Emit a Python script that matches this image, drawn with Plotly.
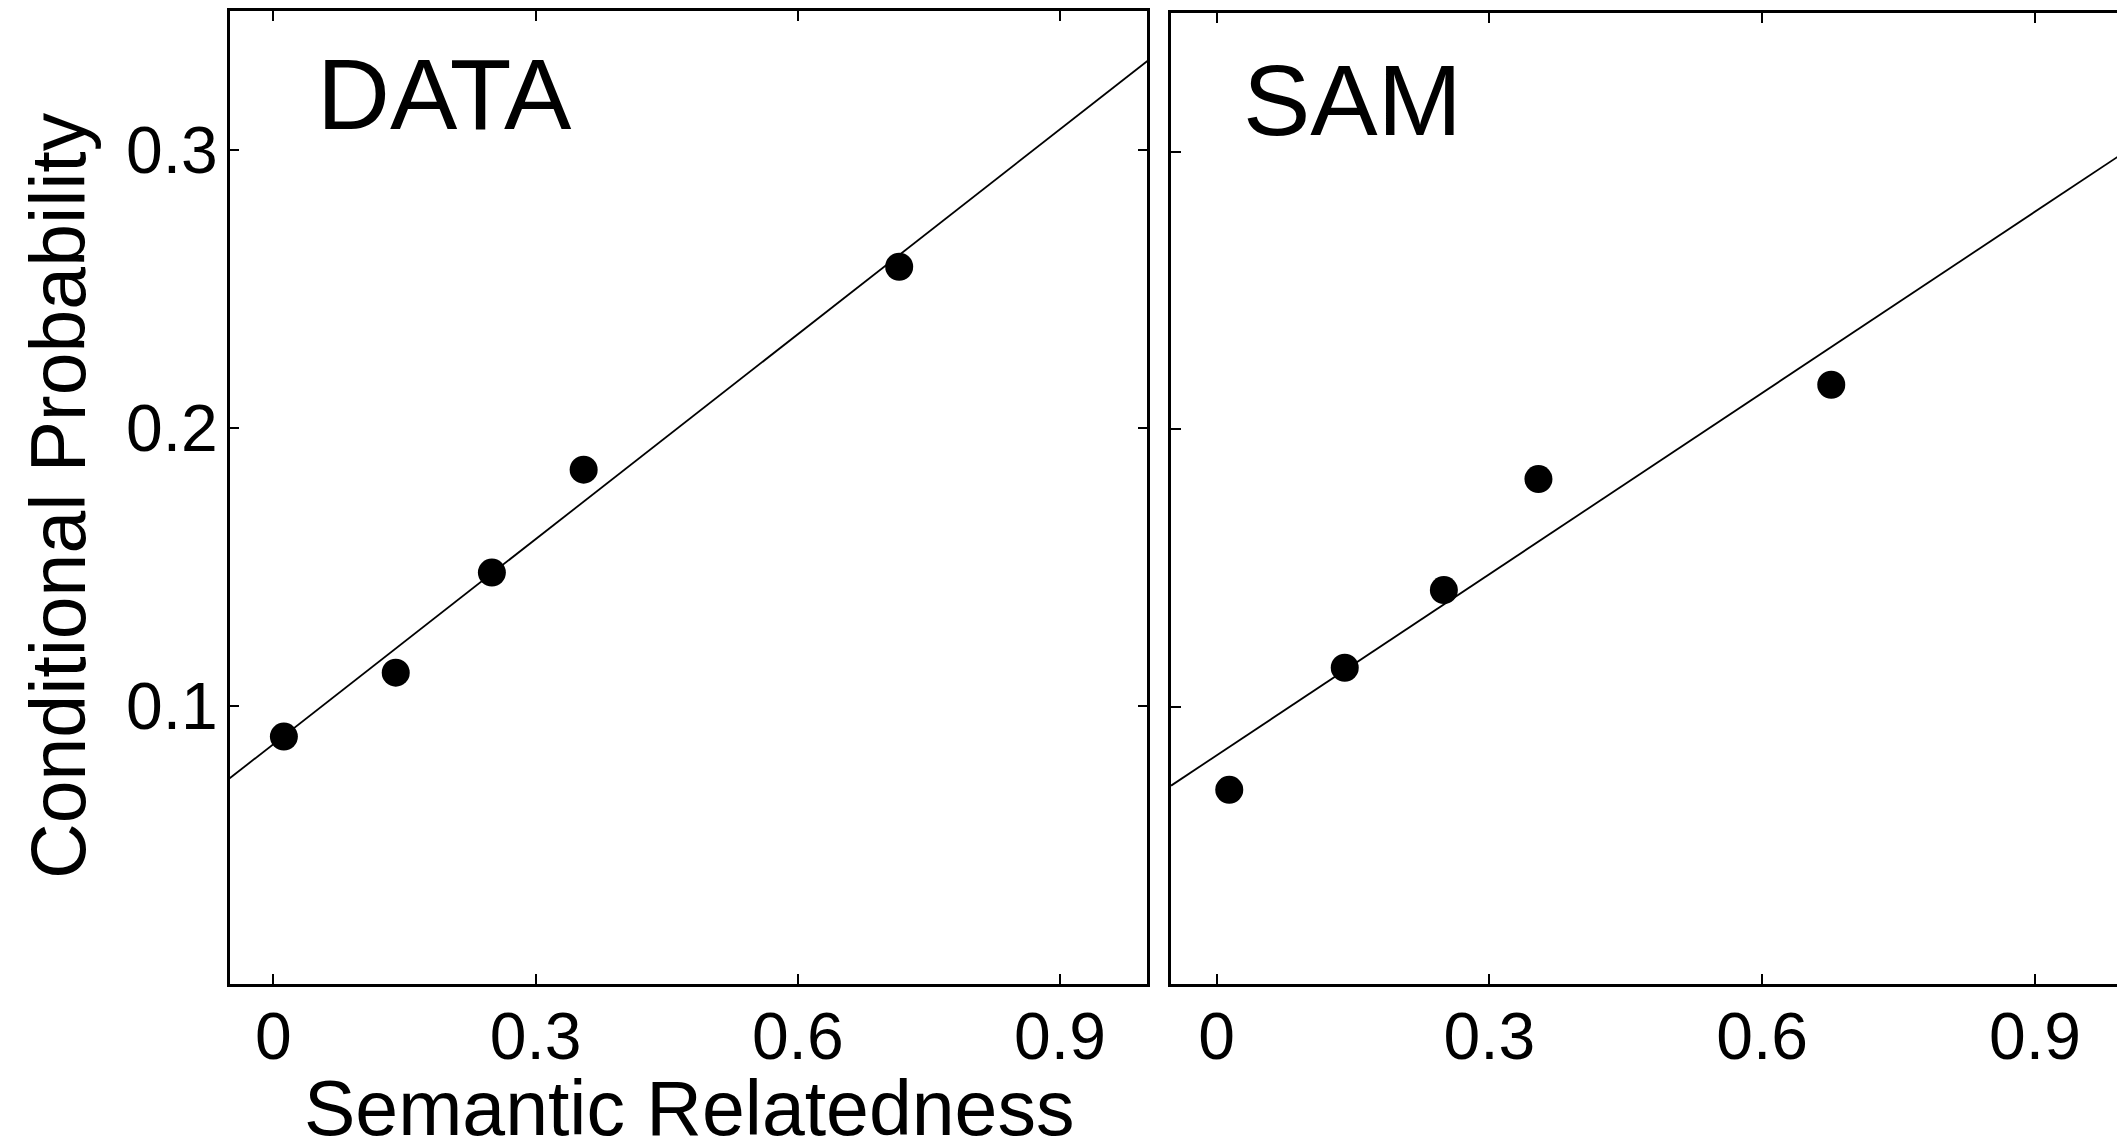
import plotly.graph_objects as go

# ---- data ----
data_x = [0.012, 0.140, 0.250, 0.355, 0.716]
data_y = [0.089, 0.112, 0.148, 0.185, 0.258]
data_fit_x = [-0.05, 1.0]
data_fit_y = [0.074, 0.332]

sam_x = [0.014, 0.141, 0.250, 0.354, 0.676]
sam_y = [0.070, 0.114, 0.142, 0.182, 0.216]
sam_fit_x = [-0.05, 1.02]
sam_fit_y = [0.0715, 0.3045]

x_tickvals = [0, 0.3, 0.6, 0.9]
x_ticktext = ["0", "0.3", "0.6", "0.9"]
y_tickvals = [0.1, 0.2, 0.3]
y_ticktext = ["0.1", "0.2", "0.3"]

W, H = 2125, 1145
OFF_X = 6  # page offset compensation
OFF_Y = 8
FONT = "Liberation Sans, Arial, Helvetica, sans-serif"


def px(v):
    return (v - OFF_X) / W


def py(v):
    return 1 - (v - OFF_Y) / H


fig = go.Figure()

for xs, ys, fx, fy, xa, ya in [
    (data_x, data_y, data_fit_x, data_fit_y, "x", "y"),
    (sam_x, sam_y, sam_fit_x, sam_fit_y, "x2", "y2"),
]:
    fig.add_trace(go.Scatter(x=fx, y=fy, mode="lines",
                             line=dict(color="black", width=1.8),
                             xaxis=xa, yaxis=ya, showlegend=False, hoverinfo="skip"))
    fig.add_trace(go.Scatter(x=xs, y=ys, mode="markers",
                             marker=dict(color="black", size=28),
                             xaxis=xa, yaxis=ya, showlegend=False, cliponaxis=False))

axis_common = dict(
    showgrid=False, zeroline=False, showline=True, linecolor="black", linewidth=2.5,
    ticks="inside", ticklen=10, tickwidth=1.5, tickcolor="black", mirror="ticks",
    tickfont=dict(family=FONT, size=66, color="black"),
)

fig.update_layout(
    width=W, height=H,
    margin=dict(l=0, r=0, t=0, b=0),
    paper_bgcolor="white", plot_bgcolor="white",
    font=dict(family=FONT, color="black"),
    xaxis=dict(domain=[px(228), px(1147)], range=[-0.05, 1.0],
               tickvals=x_tickvals, ticktext=x_ticktext, anchor="y",
               ticklabelstandoff=-7, **axis_common),
    yaxis=dict(domain=[py(984), py(11)], range=[0, 0.35],
               tickvals=y_tickvals, ticktext=y_ticktext, anchor="x",
               ticklabelstandoff=-4, **axis_common),
    xaxis2=dict(domain=[px(1170.7), 1.0], range=[-0.05, 1.0045],
                tickvals=x_tickvals, ticktext=x_ticktext, anchor="y2",
                ticklabelstandoff=-7, **axis_common),
    yaxis2=dict(domain=[py(984), py(13)], range=[0, 0.35],
                tickvals=y_tickvals, ticktext=y_ticktext, anchor="x2",
                showticklabels=False, **axis_common),
)

fig.add_annotation(text="DATA", xref="paper", yref="paper", x=px(313), y=py(94),
                   xanchor="left", yanchor="middle", showarrow=False,
                   font=dict(family=FONT, size=101, color="black"))
fig.add_annotation(text="SAM", xref="paper", yref="paper", x=px(1241), y=py(100),
                   xanchor="left", yanchor="middle", showarrow=False,
                   font=dict(family=FONT, size=101, color="black"))
fig.add_annotation(text="Semantic Relatedness", xref="paper", yref="paper",
                   x=px(688), y=py(1108), xanchor="center", yanchor="middle",
                   showarrow=False, font=dict(family=FONT, size=77, color="black"))
fig.add_annotation(text="Conditional Probability", xref="paper", yref="paper",
                   x=px(56), y=py(495), xanchor="center", yanchor="middle",
                   textangle=-90, showarrow=False,
                   font=dict(family=FONT, size=77, color="black"))

fig.write_html("out.html")
